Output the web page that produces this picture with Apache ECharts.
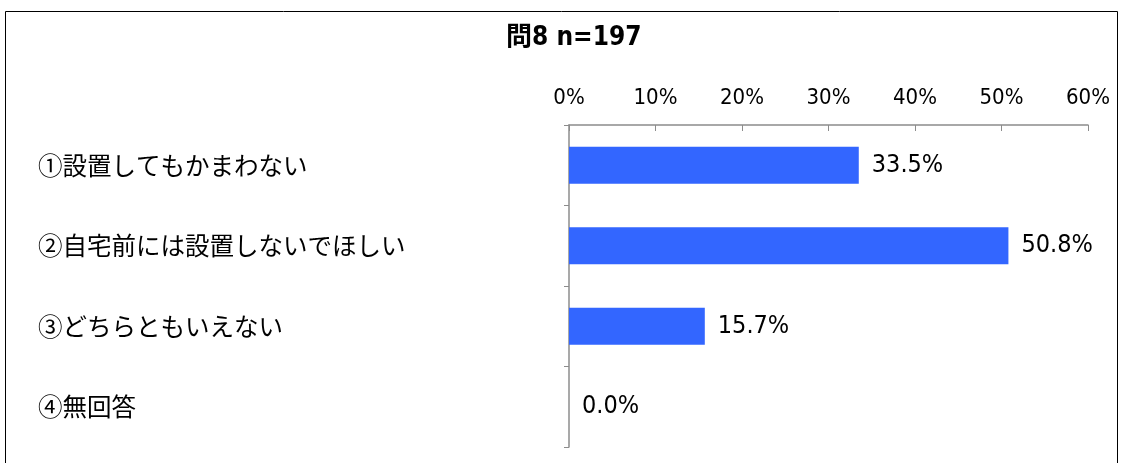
<!DOCTYPE html>
<html>
<head>
<meta charset="utf-8">
<script src="https://cdn.jsdelivr.net/npm/echarts@6/dist/echarts.min.js"></script>
<style>
  html, body { margin: 0; padding: 0; background: #fff; }
  #chart { width: 1126px; height: 463px; }
</style>
</head>
<body>
<div id="chart"></div>
<script>
const categories = [
  "①設置してもかまわない",
  "②自宅前には設置しないでほしい",
  "③どちらともいえない",
  "④無回答",
]
const values = [33.5, 50.8, 15.7, 0.0]
const tickMax = 60
const tickStep = 10

const jpFont = '"Noto Sans CJK JP", sans-serif'
const numFont = '"DejaVu Sans Condensed", "Noto Sans CJK JP", sans-serif'

const chart = echarts.init(document.getElementById("chart"))

const option = {
  animation: false,
  backgroundColor: "#fff",
  title: {
    text: "問8 n=197",
    left: 501,
    top: 20,
    textStyle: { fontFamily: numFont, fontSize: 26, fontWeight: "bold", color: "#000" },
  },
  graphic: [
    {
      type: "rect",
      shape: { x: 5.5, y: 11.5, width: 1112, height: 470 },
      style: { fill: "none", stroke: "#000", lineWidth: 1 },
      silent: true,
    },
  ],
  grid: { left: 569, right: 38, top: 125, bottom: 16, containLabel: false },
  xAxis: {
    type: "value",
    position: "top",
    min: 0,
    max: tickMax,
    interval: tickStep,
    axisLine: { show: true, lineStyle: { color: "#8c8c8c", width: 1.5 } },
    axisTick: { show: true, inside: true, length: 6, lineStyle: { color: "#8c8c8c" } },
    splitLine: { show: false },
    axisLabel: {
      margin: 16,
      formatter: "{value}%",
      fontFamily: numFont,
      fontSize: 22,
      color: "#000",
    },
  },
  yAxis: {
    type: "category",
    inverse: true,
    data: categories,
    axisLine: { show: true, lineStyle: { color: "#8c8c8c", width: 1.5 } },
    axisTick: { show: true, length: 5, alignWithLabel: false, lineStyle: { color: "#8c8c8c" } },
    axisLabel: {
      align: "left",
      margin: 531,
      fontFamily: jpFont,
      fontSize: 24.5,
      color: "#000",
    },
  },
  series: [
    {
      type: "bar",
      data: values,
      barWidth: "46%",
      itemStyle: { color: "#3366ff" },
      label: {
        show: true,
        position: "right",
        distance: 13,
        formatter: (p) => p.value.toFixed(1) + "%",
        fontFamily: numFont,
        fontSize: 25,
        color: "#000",
      },
    },
  ],
}

chart.setOption(option)
</script>
</body>
</html>
